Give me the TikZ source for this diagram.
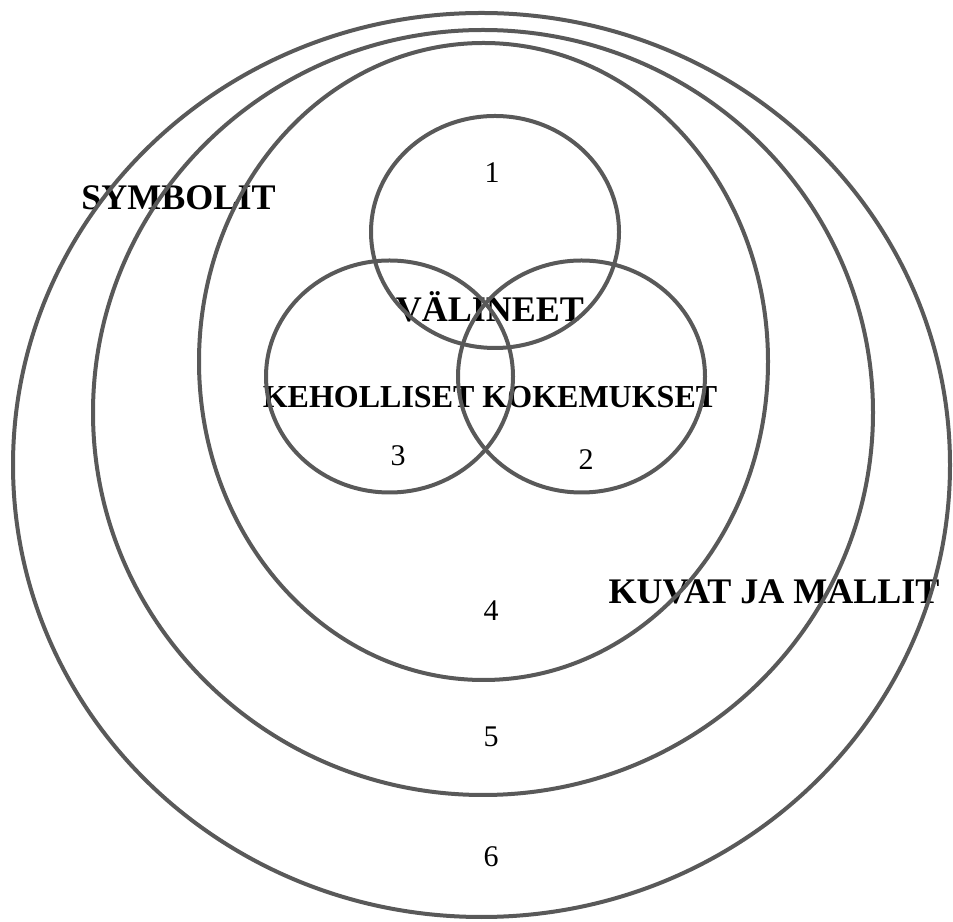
\documentclass[tikz,border=0pt]{standalone}
\usepackage{fontspec}
\setmainfont{Liberation Serif}
\usepackage{tikz}
\usetikzlibrary{shapes.geometric, positioning}
\definecolor{ringgray}{RGB}{89,89,89}
\tikzstyle{ring} = [ellipse, draw=ringgray, line width=4pt, inner sep=0pt]
\tikzstyle{petal} = [ring, minimum width=247pt, minimum height=232pt]
\tikzstyle{title} = [anchor=base, inner sep=0pt, font=\fontsize{36}{40}\selectfont\bfseries]
\tikzstyle{num} = [anchor=base, inner sep=0pt, font=\fontsize{30}{34}\selectfont]

\begin{document}
\begin{tikzpicture}[x=1pt, y=1pt]
    \useasboundingbox (0,0) rectangle (953,921);

    % labels
    \node (symb) [title] at (178.5,711) {SYMBOLIT};
    \node (kuvat) [title] at (774,317) {KUVAT JA MALLIT};
    \node (val) [title] at (490,599) {VÄLINEET};
    \node (keho) [title, font=\fontsize{32}{36}\selectfont\bfseries] at (490,513) {KEHOLLISET KOKEMUKSET};

    \foreach \lbl/\px/\py in {1/492/738, 2/586/451, 3/398/455, 4/491/300, 5/491/174, 6/491/54} {
        \node (n\lbl) [num] at (\px,\py) {\lbl};
    }

    % big rings
    \node (r6) [ring, minimum width=937pt, minimum height=904pt] at (481.5,456) {};
    \node (r5) [ring, minimum width=780pt, minimum height=765pt] at (483,508.5) {};
    \node (r4) [ring, minimum width=569pt, minimum height=637pt] at (483.5,559.5) {};

    % venn circles
    \node (c1) [petal, minimum width=248pt] at (495,689) {};
    \node (c3) [petal] at (389.5,544.5) {};
    \node (c2) [petal] at (581.5,544.5) {};
\end{tikzpicture}
\end{document}
